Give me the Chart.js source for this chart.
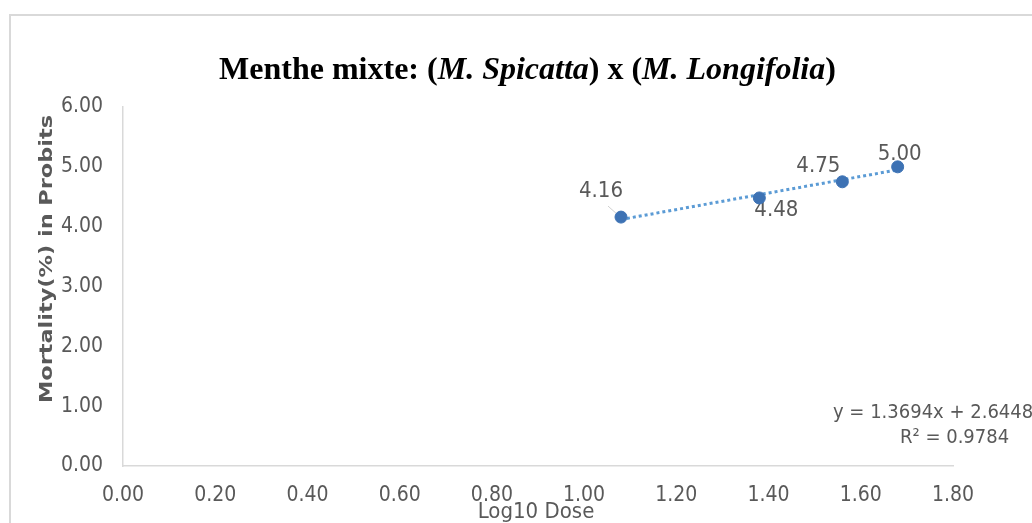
<!DOCTYPE html>
<html>
<head>
<meta charset="utf-8">
<script src="https://cdn.jsdelivr.net/npm/chart.js@4.4.1/dist/chart.umd.min.js"></script>
<style>
  html, body { margin: 0; padding: 0; background: #ffffff; }
  #wrap { position: relative; width: 1032px; height: 523px; overflow: hidden; }
  #title { position: absolute; left: 0; width: 1055px; top: 50px; text-align: center;
           font-family: 'Liberation Serif', 'Times New Roman', serif; font-weight: bold; font-size: 32px; color: #000; white-space: nowrap; }
  canvas { position: absolute; left: 0; top: 0; }
</style>
</head>
<body>
<div id="wrap">
  <canvas id="c" width="1032" height="523"></canvas>
  <div id="title">Menthe mixte: (<i>M. Spicatta</i>) x (<i>M. Longifolia</i>)</div>
</div>
<script>
// ---- data ----
const doseLog = [1.08, 1.38, 1.56, 1.68];
const probit = [4.16, 4.48, 4.75, 5.00];
const probitLabels = ['4.16', '4.48', '4.75', '5.00'];
const trendX = [1.08, 1.68];
const trendY = [4.12, 4.95];
const xTickValues = [0, 0.2, 0.4, 0.6, 0.8, 1.0, 1.2, 1.4, 1.6, 1.8];
const yTickValues = [0, 1, 2, 3, 4, 5, 6];
const xTitle = 'Log10 Dose';
const yTitle = 'Mortality(%) in Probits';
const equationText = 'y = 1.3694x + 2.6448';
const r2Text = 'R² = 0.9784';

const GRAY = '#595959';
const NARROW = "'Liberation Sans Narrow', 'DejaVu Sans Condensed', Lato, sans-serif";

const extras = {
  id: 'extras',
  beforeDraw(chart) {
    const ctx = chart.ctx;
    ctx.save();
    ctx.strokeStyle = '#d9d9d9';
    ctx.lineWidth = 2;
    ctx.beginPath();
    ctx.moveTo(10, 523); ctx.lineTo(10, 15); ctx.lineTo(1032, 15);
    ctx.stroke();
    ctx.restore();
  },
  beforeDatasetsDraw(chart) {
    const ctx = chart.ctx;
    const meta = chart.getDatasetMeta(1);
    const offs = [[-20, -26], [17, 12], [-24, -16], [2, -13]];
    ctx.save();
    const p0 = meta.data[0];
    ctx.strokeStyle = '#d0d0d0';
    ctx.lineWidth = 1;
    ctx.beginPath();
    ctx.moveTo(p0.x - 13, p0.y - 11); ctx.lineTo(p0.x - 4, p0.y - 3);
    ctx.stroke();
    ctx.font = '22px ' + NARROW;
    ctx.fillStyle = GRAY;
    ctx.textAlign = 'center';
    ctx.textBaseline = 'middle';
    meta.data.forEach((pt, i) => {
      ctx.fillText(probitLabels[i], pt.x + offs[i][0], pt.y + offs[i][1]);
    });
    ctx.restore();
  },
  afterDraw(chart) {
    const ctx = chart.ctx;
    const area = chart.chartArea;
    ctx.save();
    ctx.fillStyle = GRAY;
    ctx.textBaseline = 'middle';
    ctx.font = '22px ' + NARROW;
    ctx.textAlign = 'center';
    ctx.fillText(xTitle, (area.left + area.right) / 2 - 2, 512);
    ctx.save();
    ctx.font = 'bold 18px ' + NARROW;
    ctx.translate(47, 259);
    ctx.rotate(-Math.PI / 2);
    const w = ctx.measureText(yTitle).width;
    ctx.scale(288 / w, 1);
    ctx.fillText(yTitle, 0, 0);
    ctx.restore();
    ctx.font = '20px ' + NARROW;
    ctx.textAlign = 'left';
    ctx.fillText(equationText, 833, 413);
    ctx.fillText(r2Text, 900, 438);
    ctx.restore();
  }
};

new Chart(document.getElementById('c'), {
  type: 'scatter',
  data: {
    datasets: [
      {
        label: 'Trend',
        data: trendX.map((x, i) => ({ x, y: trendY[i] })),
        showLine: true,
        borderColor: '#5b9bd5',
        borderWidth: 3,
        borderDash: [3, 3],
        pointRadius: 0,
        order: 2
      },
      {
        label: 'Probit',
        data: doseLog.map((x, i) => ({ x, y: probit[i] })),
        showLine: false,
        backgroundColor: '#3d72b4',
        borderColor: '#3d72b4',
        pointRadius: 6,
        order: 1
      }
    ]
  },
  options: {
    responsive: false,
    animation: false,
    events: [],
    layout: { padding: { left: 0, right: 79, top: 107, bottom: 0 } },
    plugins: { legend: { display: false }, tooltip: { enabled: false }, title: { display: false } },
    scales: {
      x: {
        type: 'linear',
        min: 0, max: 1.8,
        afterFit(s) { s.height = 57; },
        afterBuildTicks(s) { s.ticks = xTickValues.map(v => ({ value: v })); },
        grid: { display: false, drawTicks: false },
        border: { display: true, color: '#d9d9d9', width: 1.5 },
        ticks: { padding: 17, color: GRAY, font: { family: NARROW, size: 21 },
                 callback: v => Number(v).toFixed(2), maxRotation: 0, autoSkip: false }
      },
      y: {
        min: 0, max: 6,
        afterFit(s) { s.width = 123; },
        afterBuildTicks(s) { s.ticks = yTickValues.map(v => ({ value: v })); },
        grid: { display: false, drawTicks: false },
        border: { display: true, color: '#d9d9d9', width: 1.5 },
        ticks: { padding: 20, color: GRAY, font: { family: NARROW, size: 21 },
                 callback: v => Number(v).toFixed(2), autoSkip: false }
      }
    }
  },
  plugins: [extras]
});
</script>
</body>
</html>
